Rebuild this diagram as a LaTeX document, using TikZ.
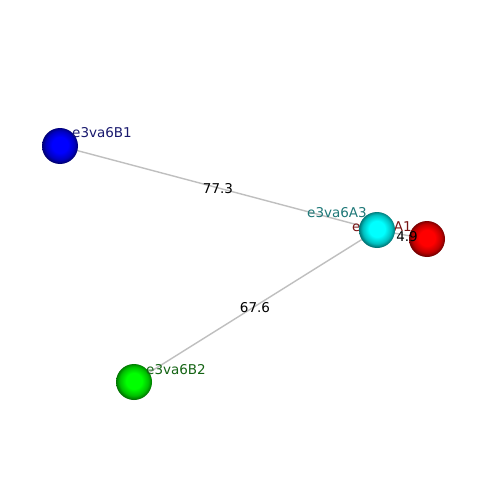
\documentclass[tikz,border=0pt]{standalone}
\usepackage{fontspec}
\setmainfont{DejaVu Sans}
\definecolor{cB}{RGB}{0,0,255}
\definecolor{cC}{RGB}{0,255,255}
\definecolor{cR}{RGB}{255,0,0}
\definecolor{cG}{RGB}{0,255,0}
\pgfdeclareradialshading{sphB}{\pgfpoint{0bp}{2bp}}{color(0bp)=(cB); color(11bp)=(cB); color(20bp)=(cB!75!black); color(25bp)=(cB!45!black); color(50bp)=(cB!45!black)}
\pgfdeclareradialshading{sphC}{\pgfpoint{0bp}{2bp}}{color(0bp)=(cC); color(11bp)=(cC); color(20bp)=(cC!75!black); color(25bp)=(cC!45!black); color(50bp)=(cC!45!black)}
\pgfdeclareradialshading{sphR}{\pgfpoint{0bp}{2bp}}{color(0bp)=(cR); color(11bp)=(cR); color(20bp)=(cR!75!black); color(25bp)=(cR!45!black); color(50bp)=(cR!45!black)}
\pgfdeclareradialshading{sphG}{\pgfpoint{0bp}{2bp}}{color(0bp)=(cG); color(11bp)=(cG); color(20bp)=(cG!75!black); color(25bp)=(cG!45!black); color(50bp)=(cG!45!black)}
\begin{document}
\begin{tikzpicture}[x=1pt,y=-1pt,
  ball/.style={circle,minimum size=36pt,inner sep=0pt},
  edge/.style={draw=black!25,line width=1.4pt},
  nlab/.style={anchor=west,inner sep=0pt,font=\fontsize{13.5}{15}\selectfont},
  elab/.style={inner sep=0pt,font=\fontsize{13.5}{15}\selectfont,text=black}]
\useasboundingbox[fill=white] (0,0) rectangle (500,500);
% node centres
\coordinate (cB1) at (60,146);
\coordinate (cA3) at (377,230);
\coordinate (cA1) at (427,239);
\coordinate (cB2) at (134,382);
% edges
\draw[edge] (cB1) -- (cA3);
\draw[edge] (cB2) -- (cA3);
\draw[edge] (cA3) -- (cA1);
\node[elab] (l773) at (218,189) {77.3};
\node[elab] (l676) at (255,308) {67.6};
% nodes
\node[ball,shading=sphB] (B1) at (cB1) {};
\node[nlab,text={rgb,255:red,25;green,25;blue,110}] (tB1) at (72,133) {e3va6B1};
\node[ball,shading=sphG] (B2) at (cB2) {};
\node[nlab,text={rgb,255:red,20;green,100;blue,20}] (tB2) at (146,370) {e3va6B2};
\node[ball,shading=sphR] (A1) at (cA1) {};
\node[nlab,text={rgb,255:red,120;green,20;blue,20}] (tA1) at (352,227) {e3va6A1};
\node[ball,shading=sphC] (A3) at (cA3) {};
\node[nlab,text={rgb,255:red,30;green,120;blue,120}] (tA3) at (307,213) {e3va6A3};
\node[elab] (l49) at (407,237) {4.9};
\end{tikzpicture}
\end{document}
